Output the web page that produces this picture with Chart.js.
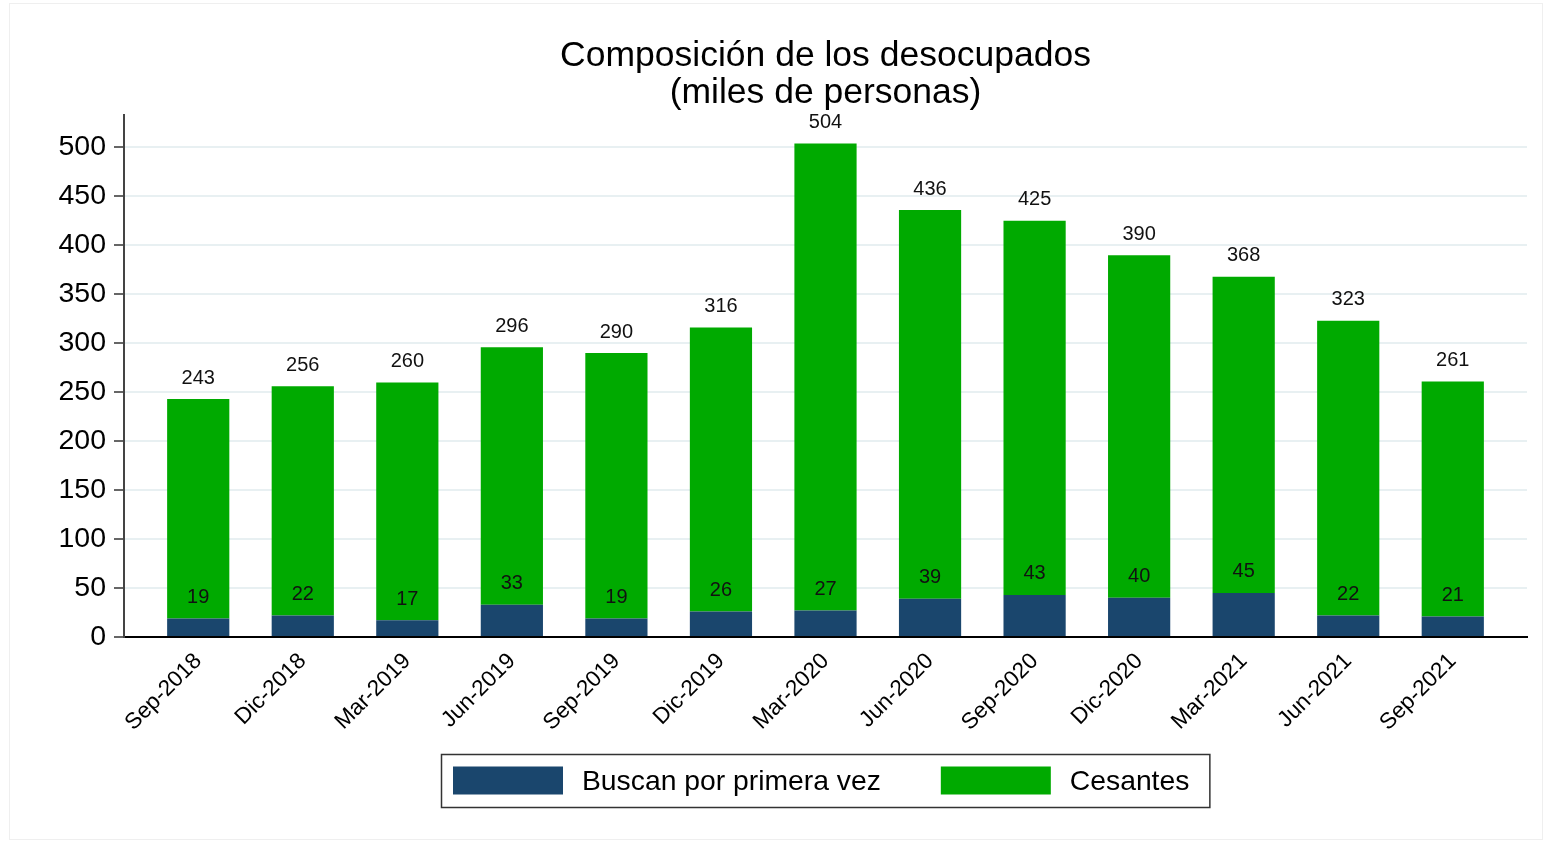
<!DOCTYPE html>
<html>
<head>
<meta charset="utf-8">
<script src="https://cdn.jsdelivr.net/npm/chart.js@4"></script>
<style>
  html, body { margin: 0; padding: 0; background: #fff; }
  #wrap { width: 1553px; height: 843px; position: relative; }
</style>
</head>
<body>
<div id="wrap"><canvas id="my-chart" width="1553" height="843"></canvas></div>
<script>
// datos (miles de personas)
const periodos = ['Sep-2018', 'Dic-2018', 'Mar-2019', 'Jun-2019', 'Sep-2019', 'Dic-2019', 'Mar-2020',
  'Jun-2020', 'Sep-2020', 'Dic-2020', 'Mar-2021', 'Jun-2021', 'Sep-2021'];
const buscan = [19, 22, 17, 33, 19, 26, 27, 39, 43, 40, 45, 22, 21];
const cesantes = [224, 234, 243, 263, 271, 290, 477, 397, 382, 350, 323, 301, 240];
const totales = [243, 256, 260, 296, 290, 316, 504, 436, 425, 390, 368, 323, 261];
const yTicks = [0, 50, 100, 150, 200, 250, 300, 350, 400, 450, 500];

const AZUL = '#1a466d';
const VERDE = '#00aa00';

Chart.defaults.font.family = '"Liberation Sans", Arial, sans-serif';
Chart.defaults.color = '#000';

// etiquetas encima de cada segmento
const etiquetas = {
  id: 'etiquetas',
  afterDatasetsDraw(chart) {
    const ctx = chart.ctx;
    const m0 = chart.getDatasetMeta(0);
    const m1 = chart.getDatasetMeta(1);
    ctx.save();
    ctx.font = '20px "Liberation Sans", Arial, sans-serif';
    ctx.fillStyle = '#111';
    ctx.textAlign = 'center';
    ctx.textBaseline = 'middle';
    m0.data.forEach((bar, i) => {
      ctx.fillText(buscan[i], bar.x, bar.y - 21);
    });
    m1.data.forEach((bar, i) => {
      ctx.fillText(totales[i], bar.x, bar.y - 21);
    });
    ctx.restore();
  }
};

// leyenda con recuadro, al estilo Stata
const leyenda = {
  id: 'leyenda',
  afterDraw(chart) {
    const ctx = chart.ctx;
    const area = chart.chartArea;
    const sw = 110, sh = 28, gapTxt = 19, gapItem = 60, padL = 12, padR = 20;
    ctx.save();
    ctx.font = '28.3px "Liberation Sans", Arial, sans-serif';
    const items = chart.data.datasets.map(d => ({ label: d.label, color: d.backgroundColor, w: ctx.measureText(d.label).width }));
    let total = padL + padR;
    items.forEach((it, i) => { total += sw + gapTxt + it.w + (i > 0 ? gapItem : 0); });
    const boxTop = area.bottom + 117;
    const boxH = 53;
    const left = Math.round((area.left + area.right) / 2 - total / 2);
    ctx.strokeStyle = '#333';
    ctx.lineWidth = 1.5;
    ctx.strokeRect(left + 0.5, boxTop + 0.5, total, boxH);
    let x = left + padL;
    const cy = boxTop + boxH / 2;
    ctx.textBaseline = 'middle';
    items.forEach((it, i) => {
      if (i > 0) x += gapItem;
      ctx.fillStyle = it.color;
      ctx.fillRect(x, cy - sh / 2, sw, sh);
      x += sw + gapTxt;
      ctx.fillStyle = '#000';
      ctx.fillText(it.label, x, cy + 2);
      x += it.w;
    });
    ctx.restore();
  }
};

// marco exterior tenue
const marco = {
  id: 'marco',
  beforeDraw(chart) {
    const ctx = chart.ctx;
    ctx.save();
    ctx.strokeStyle = '#efefef';
    ctx.lineWidth = 1;
    ctx.strokeRect(9.5, 3.5, 1533, 836);
    ctx.restore();
  }
};

new Chart(document.querySelector('#my-chart'), {
  type: 'bar',
  data: {
    datasets: [
      {
        label: 'Buscan por primera vez',
        data: buscan.map((v, i) => ({ x: i, y: v })),
        backgroundColor: AZUL
      },
      {
        label: 'Cesantes',
        data: cesantes.map((v, i) => ({ x: i, y: v })),
        backgroundColor: VERDE
      }
    ]
  },
  options: {
    responsive: false,
    animation: false,
    layout: { padding: { left: 10, right: 26, top: 0, bottom: 0 } },
    datasets: { bar: { barPercentage: 0.595, categoryPercentage: 1 } },
    plugins: {
      legend: { display: false },
      tooltip: { enabled: false },
      title: {
        display: true,
        fullSize: false,
        text: ['Composición de los desocupados', '(miles de personas)'],
        color: '#000',
        font: { size: 35.5, weight: 'normal', lineHeight: 1.03 },
        padding: { top: 38, bottom: 4 }
      }
    },
    scales: {
      x: {
        type: 'linear',
        offset: false,
        stacked: true,
        min: -0.71,
        max: 12.71,
        grid: { display: false, offset: false },
        border: { display: true, color: '#000', width: 2 },
        afterBuildTicks: (axis) => {
          axis.ticks = periodos.map((p, i) => ({ value: i }));
        },
        afterFit: (axis) => { axis.height = 206; },
        ticks: {
          autoSkip: false,
          minRotation: 45,
          maxRotation: 45,
          padding: 3,
          font: { size: 22.5 },
          color: '#000',
          callback: (v) => periodos[v]
        }
      },
      y: {
        stacked: true,
        min: 0,
        max: 533,
        afterBuildTicks: (axis) => {
          axis.ticks = yTicks.map(v => ({ value: v }));
        },
        afterFit: (axis) => { axis.width = 114; },
        grid: {
          color: (c) => (c.tick && c.tick.value === 0) ? 'rgba(0,0,0,0)' : '#e8f0f2',
          lineWidth: 2,
          tickLength: 10,
          tickColor: '#333',
          tickWidth: 1.5
        },
        border: { display: true, color: '#444', width: 2 },
        ticks: {
          padding: 8,
          font: { size: 28.5 },
          color: '#000'
        }
      }
    }
  },
  plugins: [marco, etiquetas, leyenda]
});
</script>
</body>
</html>
